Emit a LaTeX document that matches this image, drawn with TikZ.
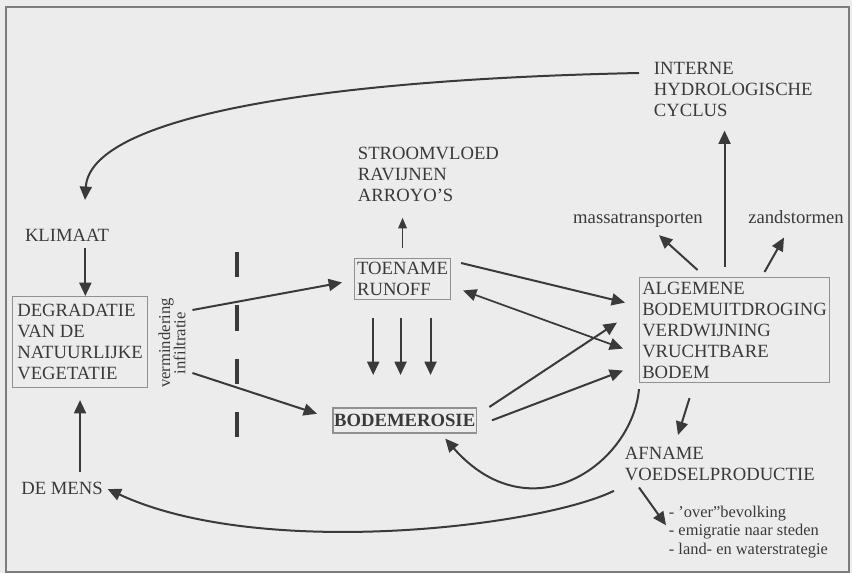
\documentclass[tikz,border=0pt]{standalone}
\usepackage{fontspec}
\setmainfont{Liberation Serif}
\usetikzlibrary{arrows.meta}

\definecolor{bgcol}{RGB}{236,236,236}
\definecolor{inkcol}{RGB}{58,58,58}
\definecolor{boxcol}{RGB}{145,145,145}
\definecolor{framecol}{RGB}{125,125,125}

\tikzset{
  arr/.style={draw=inkcol, line width=1.5pt, -{Triangle[length=10pt,width=9pt]}},
  smallarr/.style={arr, line width=1pt, -{Triangle[length=8pt,width=6.5pt]}},
  dubbel/.style={arr, line width=1.3pt, {Triangle[length=10pt,width=9pt]}-{Triangle[length=10pt,width=9pt]}},
  lbl/.style={text=inkcol, inner sep=2pt, align=left, font=\fontsize{14}{15.75}\selectfont},
  kader/.style={lbl, draw=boxcol, line width=0.8pt, anchor=north west, inner sep=1pt}
}

\begin{document}
\begin{tikzpicture}[x=0.75pt,y=-0.75pt]
  \fill[bgcol] (0,0) rectangle (852,573);
  \useasboundingbox (0,0) rectangle (852,573);
  \draw[framecol, line width=1.2pt] (6,7) rectangle (849,572);

  %% boxes
  \node[kader, minimum width=101.25pt, minimum height=68.25pt] (degr) at (12,296) {DEGRADATIE\\VAN DE\\NATUURLIJKE\\VEGETATIE};
  \node[kader, minimum width=72pt, minimum height=30.75pt] (toename) at (354,258) {TOENAME\\RUNOFF};
  \node[kader, line width=1.2pt, font=\fontsize{14}{15.75}\selectfont\bfseries, minimum width=107.25pt, minimum height=18.75pt] (erosie) at (332,407) {BODEMEROSIE};
  \node[kader, minimum width=142.5pt, minimum height=78.75pt] (algemene) at (639,277) {ALGEMENE\\BODEMUITDROGING\\VERDWIJNING\\VRUCHTBARE\\BODEM};

  %% loose labels
  \node[lbl] (klimaat) at (67,235) {KLIMAAT};
  \node[lbl] (mens) at (62,488) {DE MENS};
  \node[lbl, anchor=north west] (interne) at (651,59) {INTERNE\\HYDROLOGISCHE\\CYCLUS};
  \node[lbl, anchor=north west] (stroom) at (355,144) {STROOMVLOED\\RAVIJNEN\\ARROYO'S};
  \node[lbl] (massa) at (638,220) {massatransporten};
  \node[lbl] (zand) at (796,217) {zandstormen};
  \node[lbl, anchor=north west] (afname) at (622,444) {AFNAME\\VOEDSELPRODUCTIE};
  \node[lbl, anchor=north west, font=\fontsize{12.3}{13.9}\selectfont] (gevolgen) at (666,503) {- 'over"bevolking\\- emigratie naar steden\\- land- en waterstrategie};
  \node[lbl, rotate=90, align=center, font=\fontsize{12.5}{11.5}\selectfont] (verm) at (172,343) {vermindering\\infiltratie};

  %% break line
  \draw[inkcol, line width=3pt, dash pattern=on 19pt off 21pt] (237,252) -- (237,438);

  %% cycle via klimaat
  \draw[arr] ([xshift=-9pt,yshift=-10.5pt]interne.north west) .. controls (300,80) and (90,120) .. ([xshift=13.5pt,yshift=19.5pt]klimaat.north);
  \draw[arr] ([xshift=4pt,yshift=-3pt]degr.north |- klimaat.south) -- ([xshift=4pt]degr.north);
  \draw[arr] ([yshift=5pt]degr.south |- mens.north) -- ([yshift=-9pt]degr.south);

  %% infiltration
  \draw[arr] ([xshift=3pt,yshift=24.75pt]verm.south) -- ([xshift=-9pt,yshift=-2.6pt]toename.west);
  \draw[arr] ([xshift=3pt,yshift=-22.5pt]verm.south) -- ([xshift=-11.25pt,yshift=4.9pt]erosie.west);

  %% runoff
  \draw[smallarr] ([yshift=7.5pt]toename.north) -- ([yshift=-10pt]toename.north |- stroom.south);
  \foreach \dx in {-22,-1.5,21}
    \draw[arr] ([xshift=\dx pt,yshift=-13.5pt]toename.south) -- ([xshift=\dx pt,yshift=24pt]toename.south |- erosie.north);
  \draw[arr] ([xshift=7.5pt,yshift=-3.75pt]toename.north east) -- ([xshift=-10.5pt,yshift=20.6pt]algemene.west);
  \draw[dubbel] ([xshift=9pt,yshift=-8.6pt]toename.east) -- ([xshift=-12pt,yshift=-13.9pt]algemene.west);

  %% erosion
  \draw[arr] ([xshift=9pt]erosie.north east) -- ([xshift=-16.5pt,yshift=5.6pt]algemene.west);
  \draw[arr] ([xshift=11pt]erosie.east) -- ([xshift=-12pt,yshift=-30.4pt]algemene.west);
  \draw[arr] ([yshift=-4.5pt]algemene.south west) .. controls (632,465) and (530,535) .. ([xshift=30.4pt,yshift=-3.75pt]erosie.south);

  %% drying out
  \draw[arr] ([xshift=-27.75pt,yshift=5.25pt]algemene.north) -- ([xshift=15.75pt,yshift=-3.75pt]massa.south);
  \draw[arr] ([xshift=22.5pt,yshift=3.75pt]algemene.north) -- ([xshift=-9pt,yshift=-8.25pt]zand.south);
  \draw[arr] ([xshift=-7.5pt,yshift=7.5pt]algemene.north) -- ([xshift=-7.5pt,yshift=-8.5pt]algemene.north |- interne.south);

  %% food production
  \draw[arr] ([xshift=-33.75pt,yshift=-11.25pt]algemene.south) -- ([xshift=42pt,yshift=6.75pt]afname.north west);
  \draw[arr] ([xshift=-6pt,yshift=-5.5pt]afname.south west) .. controls (540,527) and (260,560) .. ([xshift=1.5pt,yshift=-0.75pt]mens.east);
  \draw[arr] ([xshift=12.75pt,yshift=-3pt]afname.south west) -- ([yshift=5pt]gevolgen.west);
\end{tikzpicture}
\end{document}
